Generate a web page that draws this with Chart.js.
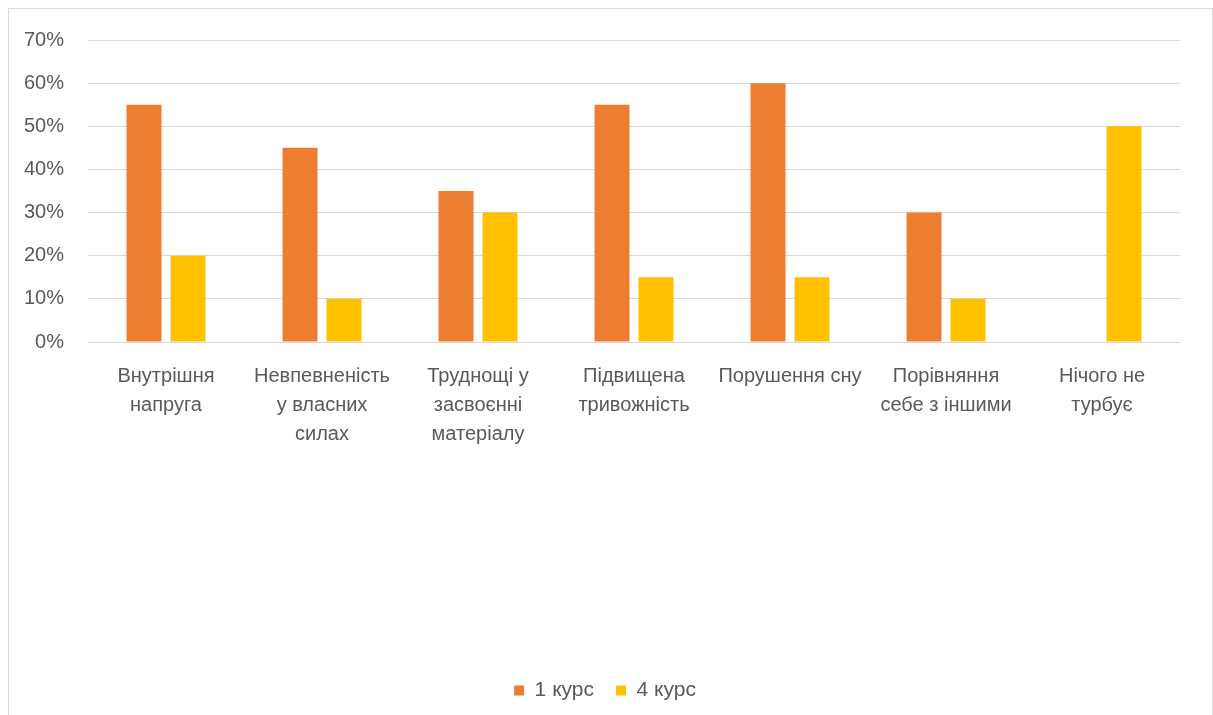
<!DOCTYPE html>
<html>
<head>
<meta charset="utf-8">
<script src="https://cdn.jsdelivr.net/npm/chart.js@4"></script>
<style>
  html, body { margin: 0; padding: 0; background: #fff; overflow: hidden; }
  #frame { position: absolute; left: 8px; top: 8px; width: 1203px; height: 720px; border: 1px solid #d9d9d9; }
  #wrap { position: absolute; left: 0; top: 0; width: 1213px; height: 715px; }
</style>
</head>
<body>
<div id="frame"></div>
<div id="wrap"><canvas id="chart"></canvas></div>
<script>
  const categories = [
    ["Внутрішня", "напруга"],
    ["Невпевненість", "у власних", "силах"],
    ["Труднощі у", "засвоєнні", "матеріалу"],
    ["Підвищена", "тривожність"],
    ["Порушення сну"],
    ["Порівняння", "себе з іншими"],
    ["Нічого не", "турбує"],
  ];
  const course1 = [55, 45, 35, 55, 60, 30, 0];
  const course4 = [20, 10, 30, 15, 15, 10, 50];
  const seriesNames = ["1 курс", "4 курс"];
  const yTicks = [0, 10, 20, 30, 40, 50, 60, 70];

  const textColor = "#595959";
  const font = { family: "'Liberation Sans', Arial, sans-serif", size: 20 };

  // legend in the original is centred on the whole frame, not the plot
  const shiftLegend = {
    id: "shiftLegend",
    afterLayout(chart) {
      if (!chart.legend) return;
      chart.legend.left += 15;
      chart.legend.right += 15;
    },
  };

  new Chart(document.getElementById("chart"), {
    type: "bar",
    data: {
      labels: categories,
      datasets: [
        { label: seriesNames[0], data: course1, backgroundColor: "#ED7D31" },
        { label: seriesNames[1], data: course4, backgroundColor: "#FFC000" },
      ],
    },
    options: {
      responsive: true,
      maintainAspectRatio: false,
      animation: false,
      categoryPercentage: 0.564,
      barPercentage: 0.795,
      layout: { padding: { top: 40, right: 33, bottom: 4, left: 0 } },
      plugins: {
        tooltip: { enabled: false },
        legend: {
          position: "bottom",
          labels: { color: textColor, font: { ...font, size: 21 }, boxWidth: 10, boxHeight: 10, padding: 22 },
        },
      },
      scales: {
        x: {
          grid: { display: false },
          border: { display: false },
          ticks: {
            color: textColor,
            font: { ...font, lineHeight: 1.45 },
            maxRotation: 0,
            minRotation: 0,
            autoSkip: false,
            padding: 12,
          },
          afterFit: (s) => { s.height = 316; },
        },
        y: {
          min: 0,
          max: 70,
          afterBuildTicks: (s) => { s.ticks = yTicks.map((v) => ({ value: v })); },
          grid: { color: "#d9d9d9", drawTicks: false },
          border: { display: false },
          ticks: { color: textColor, font: font, padding: 24, callback: (v) => v + "%" },
          afterFit: (s) => { s.width = 88; },
        },
      },
    },
    plugins: [shiftLegend],
  });
</script>
</body>
</html>
